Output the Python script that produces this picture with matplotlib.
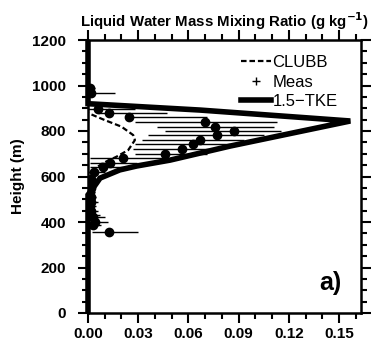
import matplotlib.pyplot as plt
from matplotlib.lines import Line2D
from matplotlib.ticker import MultipleLocator, FormatStrFormatter

plt.rcParams['font.family'] = ['Liberation Sans', 'DejaVu Sans']

# 1.5-TKE model profile (g/kg vs m)
tke_q = [0.0, 0.0, 0.0, 0.003, 0.0072, 0.019, 0.029, 0.049, 0.085, 0.1566,
         0.067, 0.0, 0.0]
tke_z = [0, 300, 519, 549, 593, 629, 646, 672, 734, 844,
         892, 920, 1200]

# CLUBB profile
clubb_q = [0.0, 0.0, 0.003, 0.009, 0.017, 0.024, 0.028, 0.0277, 0.027, 0.020,
           0.010, 0.0, 0.0]
clubb_z = [0, 615, 629, 659, 687, 716, 760, 768, 782, 819,
           848, 879, 1200]

# observations: mean with range
meas_z = [967, 897, 879, 862, 840, 818, 800, 782, 760, 741, 721, 699, 681,
          659, 642, 620, 356,
          990, 590, 570, 550, 530, 510, 490, 470, 450, 430, 420, 400, 385]
meas_q = [0.0016, 0.006, 0.0126, 0.0245, 0.070, 0.076, 0.087, 0.077, 0.067,
          0.0626, 0.056, 0.0457, 0.0207, 0.013, 0.0088, 0.0036, 0.0126,
          0.001, 0.002, 0.002, 0.0015, 0.001, 0.0015, 0.002, 0.001, 0.0015,
          0.002, 0.003, 0.004, 0.003]
meas_lo = [0.0012, 0.0, 0.006, 0.022, 0.028, 0.041, 0.046, 0.036, 0.032,
           0.028, 0.027, 0.028, 0.0012, 0.0012, 0.0012, 0.0, 0.0024,
           0.0, 0.0, 0.0, 0.0, 0.0, 0.0, 0.0, 0.0, 0.0, 0.0, 0.0, 0.0, 0.0]
meas_hi = [0.0161, 0.028, 0.047, 0.071, 0.113, 0.111, 0.115, 0.105, 0.093,
           0.085, 0.078, 0.071, 0.047, 0.029, 0.022, 0.010, 0.030,
           0.004, 0.005, 0.006, 0.004, 0.004, 0.005, 0.006, 0.005, 0.006,
           0.007, 0.010, 0.012, 0.008]

fig = plt.figure(figsize=(3.71, 3.5), dpi=100)
ax = fig.add_axes([88 / 371, 1 - 313 / 350, 273 / 371, 273 / 350])

err_l = [q - lo for q, lo in zip(meas_q, meas_lo)]
err_r = [hi - q for q, hi in zip(meas_q, meas_hi)]
ax.errorbar(meas_q, meas_z, xerr=[err_l, err_r], fmt='o', color='black',
            ms=6, elinewidth=1.0, capsize=0, zorder=3)

ax.plot(clubb_q, clubb_z, color='black', lw=1.6, ls=(0, (2.5, 1.3)), zorder=4)
ax.plot(tke_q, tke_z, color='black', lw=4, solid_joinstyle='miter',
        solid_capstyle='butt', clip_on=False, zorder=5)

ax.set_xlim(0, 0.163)
ax.set_ylim(0, 1200)
ax.xaxis.set_major_locator(MultipleLocator(0.03))
ax.xaxis.set_minor_locator(MultipleLocator(0.01))
ax.xaxis.set_major_formatter(FormatStrFormatter('%.2f'))
ax.yaxis.set_major_locator(MultipleLocator(200))
ax.yaxis.set_minor_locator(MultipleLocator(50))
ax.tick_params(which='both', direction='out', top=True, right=True,
               width=1.5)
ax.tick_params(which='major', length=7, pad=3, labelsize=11)
ax.tick_params(which='minor', length=4)
ax.tick_params(axis='y', which='major', pad=9)
for lab in ax.get_xticklabels() + ax.get_yticklabels():
    lab.set_fontweight('bold')
for s in ax.spines.values():
    s.set_linewidth(1.8)

ax.set_title('Liquid Water Mass Mixing Ratio (g kg$^{\\mathbf{-1}}$)',
             fontsize=10.8, fontweight='bold', pad=9)
ax.set_ylabel('Height (m)', fontsize=11, fontweight='bold', labelpad=5)

ax.text(0.145, 132, 'a)', fontsize=18, fontweight='bold',
        ha='center', va='center')

handles = [Line2D([], [], color='black', lw=1.6, ls=(0, (2.5, 1.3))),
           Line2D([], [], color='black', ls='none', marker='+', ms=6),
           Line2D([], [], color='black', lw=4)]
ax.legend(handles, ['CLUBB', 'Meas', '1.5\u2212TKE'], loc='upper left',
          bbox_to_anchor=(0.56, 0.945), frameon=False, fontsize=12,
          handlelength=1.8, handletextpad=0.1, labelspacing=0.27,
          borderpad=0, borderaxespad=0)

fig.savefig('out.png', dpi=100)
